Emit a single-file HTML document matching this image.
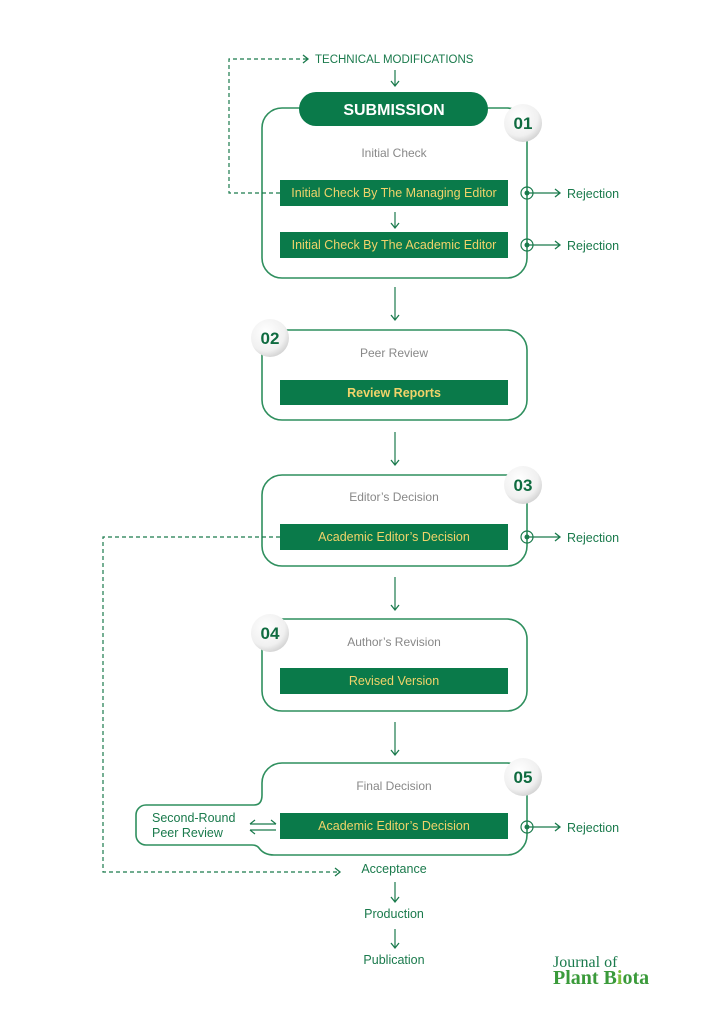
<!DOCTYPE html><html><head><style>body{margin:0;background:#fff}svg{display:block;font-family:"Liberation Sans",sans-serif}</style></head><body>
<svg width="724" height="1024" viewBox="0 0 724 1024" xmlns="http://www.w3.org/2000/svg">
<defs>
<marker id="a" markerWidth="10" markerHeight="10" refX="7" refY="5" orient="auto" markerUnits="userSpaceOnUse"><path d="M2 1L7 5L2 9" fill="none" stroke="#1a7a4c" stroke-width="1.3"/></marker>
<radialGradient id="g" cx="0.4" cy="0.35" r="0.7"><stop offset="0" stop-color="#fff"/><stop offset="0.7" stop-color="#f0f0f0"/><stop offset="1" stop-color="#cfcfcf"/></radialGradient>
</defs>
<g fill="none" stroke="#2f8f5e" stroke-width="1.6">
<rect x="262" y="108" width="265" height="170" rx="20"/>
<rect x="262" y="330" width="265" height="90" rx="20"/>
<rect x="262" y="475" width="265" height="91" rx="20"/>
<rect x="262" y="619" width="265" height="92" rx="20"/>
<path d="M282 763H507A20 20 0 0 1 527 783V835A20 20 0 0 1 507 855H274Q264 855 259 848Q257 845 252 845H146A10 10 0 0 1 136 835V815A10 10 0 0 1 146 805H254Q262 805 262 795V783A20 20 0 0 1 282 763Z"/>
</g>
<rect x="299" y="92" width="189" height="34" rx="17" fill="#0a7a4a"/>
<text x="394" y="115" text-anchor="middle" font-size="16" font-weight="bold" fill="#fff">SUBMISSION</text>
<g fill="#0a7a4a">
<rect x="280" y="180" width="228" height="26"/><rect x="280" y="232" width="228" height="26"/>
<rect x="280" y="380" width="228" height="25"/><rect x="280" y="524" width="228" height="26"/>
<rect x="280" y="668" width="228" height="26"/><rect x="280" y="813" width="228" height="26"/>
</g>
<g fill="#f0d36a" font-size="12.5" text-anchor="middle">
<text x="394" y="197">Initial Check By The Managing Editor</text>
<text x="394" y="249">Initial Check By The Academic Editor</text>
<text x="394" y="397" font-weight="bold">Review Reports</text>
<text x="394" y="541">Academic Editor’s Decision</text>
<text x="394" y="685">Revised Version</text>
<text x="394" y="830">Academic Editor’s Decision</text>
</g>
<g fill="#888" font-size="12" text-anchor="middle">
<text x="394" y="157">Initial Check</text><text x="394" y="357">Peer Review</text>
<text x="394" y="501">Editor’s Decision</text><text x="394" y="646">Author’s Revision</text>
<text x="394" y="790">Final Decision</text>
</g>
<g>
<circle cx="523" cy="123" r="19" fill="url(#g)"/><circle cx="270" cy="338" r="19" fill="url(#g)"/>
<circle cx="523" cy="485" r="19" fill="url(#g)"/><circle cx="270" cy="633" r="19" fill="url(#g)"/>
<circle cx="523" cy="777" r="19" fill="url(#g)"/>
</g>
<g fill="#0f6b40" font-size="17" font-weight="bold" text-anchor="middle">
<text x="523" y="129">01</text><text x="270" y="344">02</text><text x="523" y="491">03</text><text x="270" y="639">04</text><text x="523" y="783">05</text>
</g>
<g stroke="#1a7a4c" stroke-width="1.2" fill="none">
<line x1="395" y1="70" x2="395" y2="86" marker-end="url(#a)"/>
<line x1="395" y1="212" x2="395" y2="228" marker-end="url(#a)"/>
<line x1="395" y1="287" x2="395" y2="320" marker-end="url(#a)"/>
<line x1="395" y1="432" x2="395" y2="465" marker-end="url(#a)"/>
<line x1="395" y1="577" x2="395" y2="610" marker-end="url(#a)"/>
<line x1="395" y1="722" x2="395" y2="755" marker-end="url(#a)"/>
<line x1="395" y1="882" x2="395" y2="902" marker-end="url(#a)"/>
<line x1="395" y1="929" x2="395" y2="948" marker-end="url(#a)"/>
<g stroke-dasharray="4 3">
<polyline points="280,193 229,193 229,59 308,59" marker-end="url(#a)"/>
<polyline points="280,537 103,537 103,872 340,872" marker-end="url(#a)"/>
</g>
<line x1="527" y1="193" x2="560" y2="193" marker-end="url(#a)"/>
<line x1="527" y1="245" x2="560" y2="245" marker-end="url(#a)"/>
<line x1="527" y1="537" x2="560" y2="537" marker-end="url(#a)"/>
<line x1="527" y1="827" x2="560" y2="827" marker-end="url(#a)"/>
<circle cx="527" cy="193" r="6"/><circle cx="527" cy="245" r="6"/><circle cx="527" cy="537" r="6"/><circle cx="527" cy="827" r="6"/>
<path d="M250 824H276M271 820L276 824M250 830H276M250 830L255 834M250 824L255 820"/>
</g>
<g fill="#1a7a4c"><circle cx="527" cy="193" r="2.5"/><circle cx="527" cy="245" r="2.5"/><circle cx="527" cy="537" r="2.5"/><circle cx="527" cy="827" r="2.5"/></g>
<g fill="#1a7a4c" font-size="12.5">
<text x="567" y="198">Rejection</text><text x="567" y="250">Rejection</text><text x="567" y="542">Rejection</text><text x="567" y="832">Rejection</text>
<text x="315" y="63" font-size="11.5">TECHNICAL MODIFICATIONS</text>
<text x="152" y="822">Second-Round</text><text x="152" y="837">Peer Review</text>
<text x="394" y="873" text-anchor="middle">Acceptance</text>
<text x="394" y="918" text-anchor="middle">Production</text>
<text x="394" y="964" text-anchor="middle">Publication</text>
<text x="553" y="967" font-size="16" font-family="Liberation Serif,serif">Journal of</text>
<text x="553" y="984" font-size="20" font-weight="bold" font-family="Liberation Serif,serif" fill="#3a9a3a">Plant B<tspan fill="#7bbf3a">i</tspan>ota</text>
</g>
</svg>
</body></html>
